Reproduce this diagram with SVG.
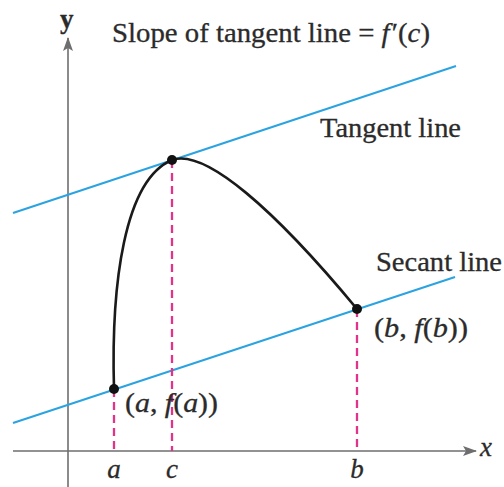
<svg xmlns="http://www.w3.org/2000/svg" width="504" height="487" viewBox="0 0 504 487">
<style>
.t{font-family:"Liberation Serif","Times New Roman",serif;font-size:27px;fill:#2b2b2b;stroke:#2b2b2b;stroke-width:0.3}
.i{font-style:italic}
.axis{stroke:#6e6e6e;stroke-width:1.6;fill:none}
.blue{stroke:#2ba3e0;stroke-width:2;fill:none}
.dash{stroke:#e2338a;stroke-width:2.3;stroke-dasharray:8,5;fill:none}
</style>
<defs>
<marker id="arr" markerWidth="14" markerHeight="10" refX="13" refY="5" orient="auto" markerUnits="userSpaceOnUse">
<path d="M0,0 L14,5 L0,10 L3,5 Z" fill="#6e6e6e"/>
</marker>
</defs>
<rect width="504" height="487" fill="#fff"/>
<g id="connectors">
<line id="xaxis" class="axis" x1="13" y1="451" x2="476" y2="451" marker-end="url(#arr)"/>
<line id="yaxis" class="axis" x1="68" y1="487" x2="68" y2="38" marker-end="url(#arr)"/>
<line id="tangent" class="blue" x1="13" y1="213" x2="456" y2="66"/>
<line id="secant" class="blue" x1="13" y1="423" x2="455" y2="277"/>
<line class="dash" x1="114" y1="389" x2="114" y2="451"/>
<line class="dash" x1="172" y1="160" x2="172" y2="451"/>
<line class="dash" x1="357" y1="309" x2="357" y2="451"/>
<path id="curve" d="M114,389 C111,285 124,180 172,160 C205,148 275,210 357,309" fill="none" stroke="#1a1a1a" stroke-width="2.6"/>
</g>
<g id="pa"><circle cx="114" cy="389" r="5" fill="#111"/><text class="t" x="125" y="412" textLength="93" lengthAdjust="spacingAndGlyphs">(<tspan class="i">a</tspan>, <tspan class="i">f</tspan>(<tspan class="i">a</tspan>))</text></g>
<g id="pc"><circle cx="172" cy="160" r="5" fill="#111"/></g>
<g id="pb"><circle cx="357" cy="309" r="5" fill="#111"/><text class="t" x="374" y="337" textLength="94" lengthAdjust="spacingAndGlyphs">(<tspan class="i">b</tspan>, <tspan class="i">f</tspan>(<tspan class="i">b</tspan>))</text></g>
<g id="labels">
<text class="t" x="60" y="28" font-weight="bold" font-size="22">y</text>
<text class="t" x="112" y="42" textLength="318" lengthAdjust="spacingAndGlyphs">Slope of tangent line = <tspan class="i">f</tspan><tspan dx="2">′</tspan>(<tspan class="i">c</tspan>)</text>
<text class="t" x="320" y="137" textLength="141" lengthAdjust="spacingAndGlyphs">Tangent line</text>
<text class="t" x="376" y="271" textLength="126" lengthAdjust="spacingAndGlyphs">Secant line</text>
<text class="t i" x="480" y="456">x</text>
<text class="t i" x="114" y="478" text-anchor="middle">a</text>
<text class="t i" x="172" y="478" text-anchor="middle">c</text>
<text class="t i" x="357" y="478" text-anchor="middle">b</text>
</g>
</svg>
